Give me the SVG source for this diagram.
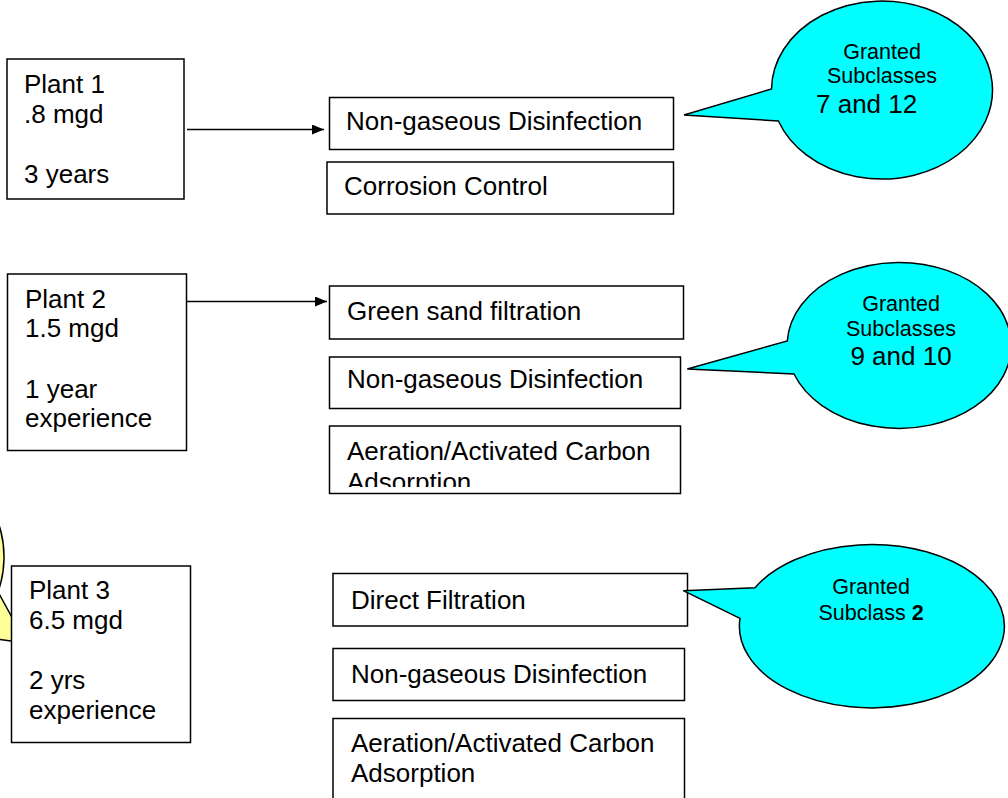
<svg xmlns="http://www.w3.org/2000/svg" width="1008" height="798" viewBox="0 0 1008 798">
  <style>
    .box { fill: #ffffff; stroke: #000000; stroke-width: 1.5; }
    .t { font-family: "Liberation Sans", Arial, sans-serif; font-size: 26px; fill: #000000; }
    .s { font-family: "Liberation Sans", Arial, sans-serif; font-size: 21.5px; fill: #000000; text-anchor: middle; }
    .bubble { fill: #00ffff; stroke: #000000; stroke-width: 1.5; stroke-linejoin: miter; }
    .note { fill: #ffff99; stroke: #000000; stroke-width: 1.5; }
    .link { fill: none; stroke: #000000; stroke-width: 1.5; marker-end: url(#arrow); }
  </style>
  <defs>
    <marker id="arrow" viewBox="0 0 12 10" refX="12" refY="5" markerUnits="userSpaceOnUse" markerWidth="12" markerHeight="10" orient="auto">
      <path d="M0,0 L12,5 L0,10 Z" fill="#000000"/>
    </marker>
    <clipPath id="clip-aer2">
      <rect x="329" y="426" width="352" height="61"/>
    </clipPath>
  </defs>

  <rect width="1008" height="798" fill="#ffffff"/>

  <!-- side note peeking in from the left edge -->
  <g id="note-left">
    <path class="note" d="M -40,634.1 L 26,643 L -2,591.9 A 60 80 0 1 0 -40 634.1 Z"/>
  </g>

  <!-- plant 1 -->
  <g id="plant1">
    <rect class="box" x="7" y="59" width="177" height="140"/>
    <text class="t" x="24" y="93">Plant 1</text>
    <text class="t" x="24" y="123">.8 mgd</text>
    <text class="t" x="24" y="183">3 years</text>
  </g>
  <g id="p1-disinfection">
    <rect class="box" x="329.5" y="97.5" width="344" height="52"/>
    <text class="t" x="346" y="130">Non-gaseous Disinfection</text>
  </g>
  <g id="p1-corrosion">
    <rect class="box" x="327" y="162" width="346.5" height="52"/>
    <text class="t" x="344" y="195">Corrosion Control</text>
  </g>
  <g id="bubble1">
    <path class="bubble" d="M 778.4,121 L 684,115 L 771.5,89 A 110.5 89 0 1 1 778.4 121 Z"/>
    <text class="s" x="882" y="59">Granted</text>
    <text class="s" x="882" y="83">Subclasses</text>
    <text class="t" x="816" y="113">7 and 12</text>
  </g>

  <!-- plant 2 -->
  <g id="plant2">
    <rect class="box" x="7.5" y="274" width="179" height="176.5"/>
    <text class="t" x="25" y="308">Plant 2</text>
    <text class="t" x="25" y="337">1.5 mgd</text>
    <text class="t" x="25" y="398">1 year</text>
    <text class="t" x="25" y="427">experience</text>
  </g>
  <g id="p2-greensand">
    <rect class="box" x="329.5" y="286" width="354" height="53"/>
    <text class="t" x="347" y="320">Green sand filtration</text>
  </g>
  <g id="p2-disinfection">
    <rect class="box" x="329.5" y="357" width="351" height="51.5"/>
    <text class="t" x="347" y="388">Non-gaseous Disinfection</text>
  </g>
  <g id="p2-aeration">
    <rect class="box" x="329.5" y="426" width="351" height="67.5"/>
    <g clip-path="url(#clip-aer2)">
      <text class="t" x="347" y="460">Aeration/Activated Carbon</text>
      <text class="t" x="347" y="491">Adsorption</text>
    </g>
  </g>
  <g id="bubble2">
    <path class="bubble" d="M 794,374 L 687.3,369 L 787.3,341 A 112 83 0 1 1 794 374 Z"/>
    <text class="s" x="901" y="311">Granted</text>
    <text class="s" x="901" y="336">Subclasses</text>
    <text class="t" x="901" y="365" text-anchor="middle">9 and 10</text>
  </g>

  <!-- plant 3 -->
  <g id="plant3">
    <rect class="box" x="11.5" y="566" width="179" height="176.5"/>
    <text class="t" x="29" y="599">Plant 3</text>
    <text class="t" x="29" y="629">6.5 mgd</text>
    <text class="t" x="29" y="689">2 yrs</text>
    <text class="t" x="29" y="719">experience</text>
  </g>
  <g id="p3-direct">
    <rect class="box" x="333" y="573.5" width="354.5" height="52.5"/>
    <text class="t" x="351" y="609">Direct Filtration</text>
  </g>
  <g id="p3-disinfection">
    <rect class="box" x="333" y="648.5" width="351.5" height="52"/>
    <text class="t" x="351" y="683">Non-gaseous Disinfection</text>
  </g>
  <g id="p3-aeration">
    <rect class="box" x="333" y="718.5" width="351.5" height="100"/>
    <text class="t" x="351" y="752">Aeration/Activated Carbon</text>
    <text class="t" x="351" y="782">Adsorption</text>
  </g>
  <g id="bubble3">
    <path class="bubble" d="M 740,618.3 L 683.3,590.7 L 755,587.7 A 132.5 81.7 0 1 1 740 618.3 Z"/>
    <text class="s" x="871" y="594">Granted</text>
    <text class="s" x="871" y="620">Subclass <tspan font-weight="bold">2</tspan></text>
  </g>

  <!-- connectors -->
  <g id="connectors">
    <line class="link" x1="187" y1="129.5" x2="324" y2="129.5"/>
    <line class="link" x1="187" y1="301.5" x2="327" y2="301.5"/>
  </g>
</svg>
